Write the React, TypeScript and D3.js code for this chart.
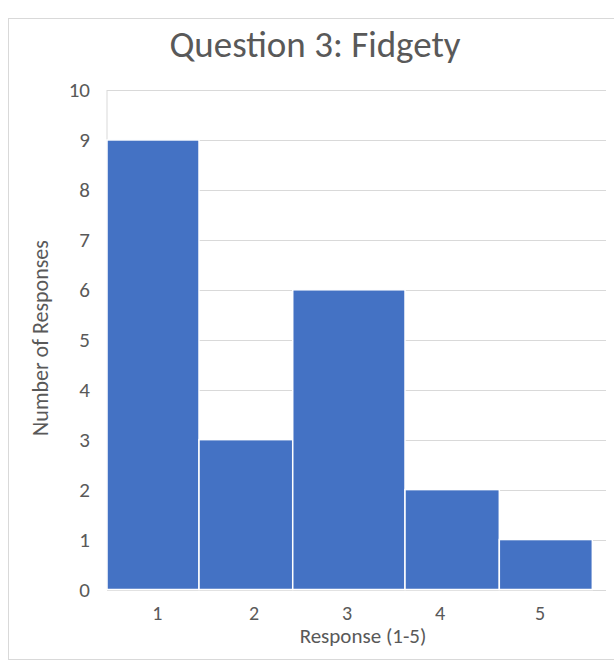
import React from "react";
import * as d3 from "d3";

const categories = ["1", "2", "3", "4", "5"];
const counts = [9, 3, 6, 2, 1];
// bin edges on the response axis, as drawn in the original (bin 3 is wider)
const binEdges = [0.5, 1.422, 2.361, 3.486, 4.431, 5.363];
// positions of category labels on the response axis
const labelPositions = [1.005, 1.973, 2.905, 3.837, 4.839];
const yTicks = [0, 1, 2, 3, 4, 5, 6, 7, 8, 9, 10];
const title = "Question 3: Fidgety";
const xTitle = "Response (1-5)";
const yTitle = "Number of Responses";

const W = 614;
const H = 664;
const left = 107;
const right = 606;
const top = 90;
const bottom = 589.5;
const FONT = "Calibri, Carlito, 'Open Sans', 'Noto Sans', sans-serif";

export default function App() {
  const x = d3.scaleLinear().domain([0.5, 5.5]).range([left, right]);
  const y = d3.scaleLinear().domain([0, 10]).range([bottom, top]);

  return (
    <svg
      width={W}
      height={H}
      style={{ position: "absolute", left: 0, top: 0, background: "#fff" }}
    >
      <rect x={0} y={0} width={W} height={H} fill="#fff" />
      <rect x={8.5} y={18.5} width={W} height={641} fill="none" stroke="#d9d9d9" strokeWidth={1} />
      <text
        x={315}
        y={57}
        textAnchor="middle"
        fontFamily={FONT}
        fontSize={37}
        fill="#595959"
      >
        {title}
      </text>
      {yTicks.map((t) => (
        <g key={t}>
          <line
            x1={left}
            x2={right}
            y1={Math.round(y(t)) + 0.5}
            y2={Math.round(y(t)) + 0.5}
            stroke="#d9d9d9"
            strokeWidth={1}
          />
          <text
            x={90}
            y={y(t)}
            dy="0.35em"
            textAnchor="end"
            fontFamily={FONT}
            fontSize={21}
            fill="#595959"
          >
            {t}
          </text>
        </g>
      ))}
      <line x1={left} x2={left} y1={top} y2={bottom} stroke="#d9d9d9" strokeWidth={1} />
      {counts.map((c, i) => (
        <rect
          key={i}
          x={x(binEdges[i])}
          y={y(c)}
          width={x(binEdges[i + 1]) - x(binEdges[i])}
          height={y(0) - y(c)}
          fill="#4472C4"
          stroke="#ffffff"
          strokeWidth={1.5}
        />
      ))}
      {categories.map((c, i) => (
        <text
          key={c}
          x={x(labelPositions[i])}
          y={620}
          textAnchor="middle"
          fontFamily={FONT}
          fontSize={20}
          fill="#595959"
        >
          {c}
        </text>
      ))}
      <text
        x={363}
        y={643}
        textAnchor="middle"
        fontFamily={FONT}
        fontSize={21}
        fill="#595959"
      >
        {xTitle}
      </text>
      <text
        transform={`translate(48, 338) rotate(-90)`}
        textAnchor="middle"
        fontFamily={FONT}
        fontSize={22}
        fill="#595959"
      >
        {yTitle}
      </text>
    </svg>
  );
}
